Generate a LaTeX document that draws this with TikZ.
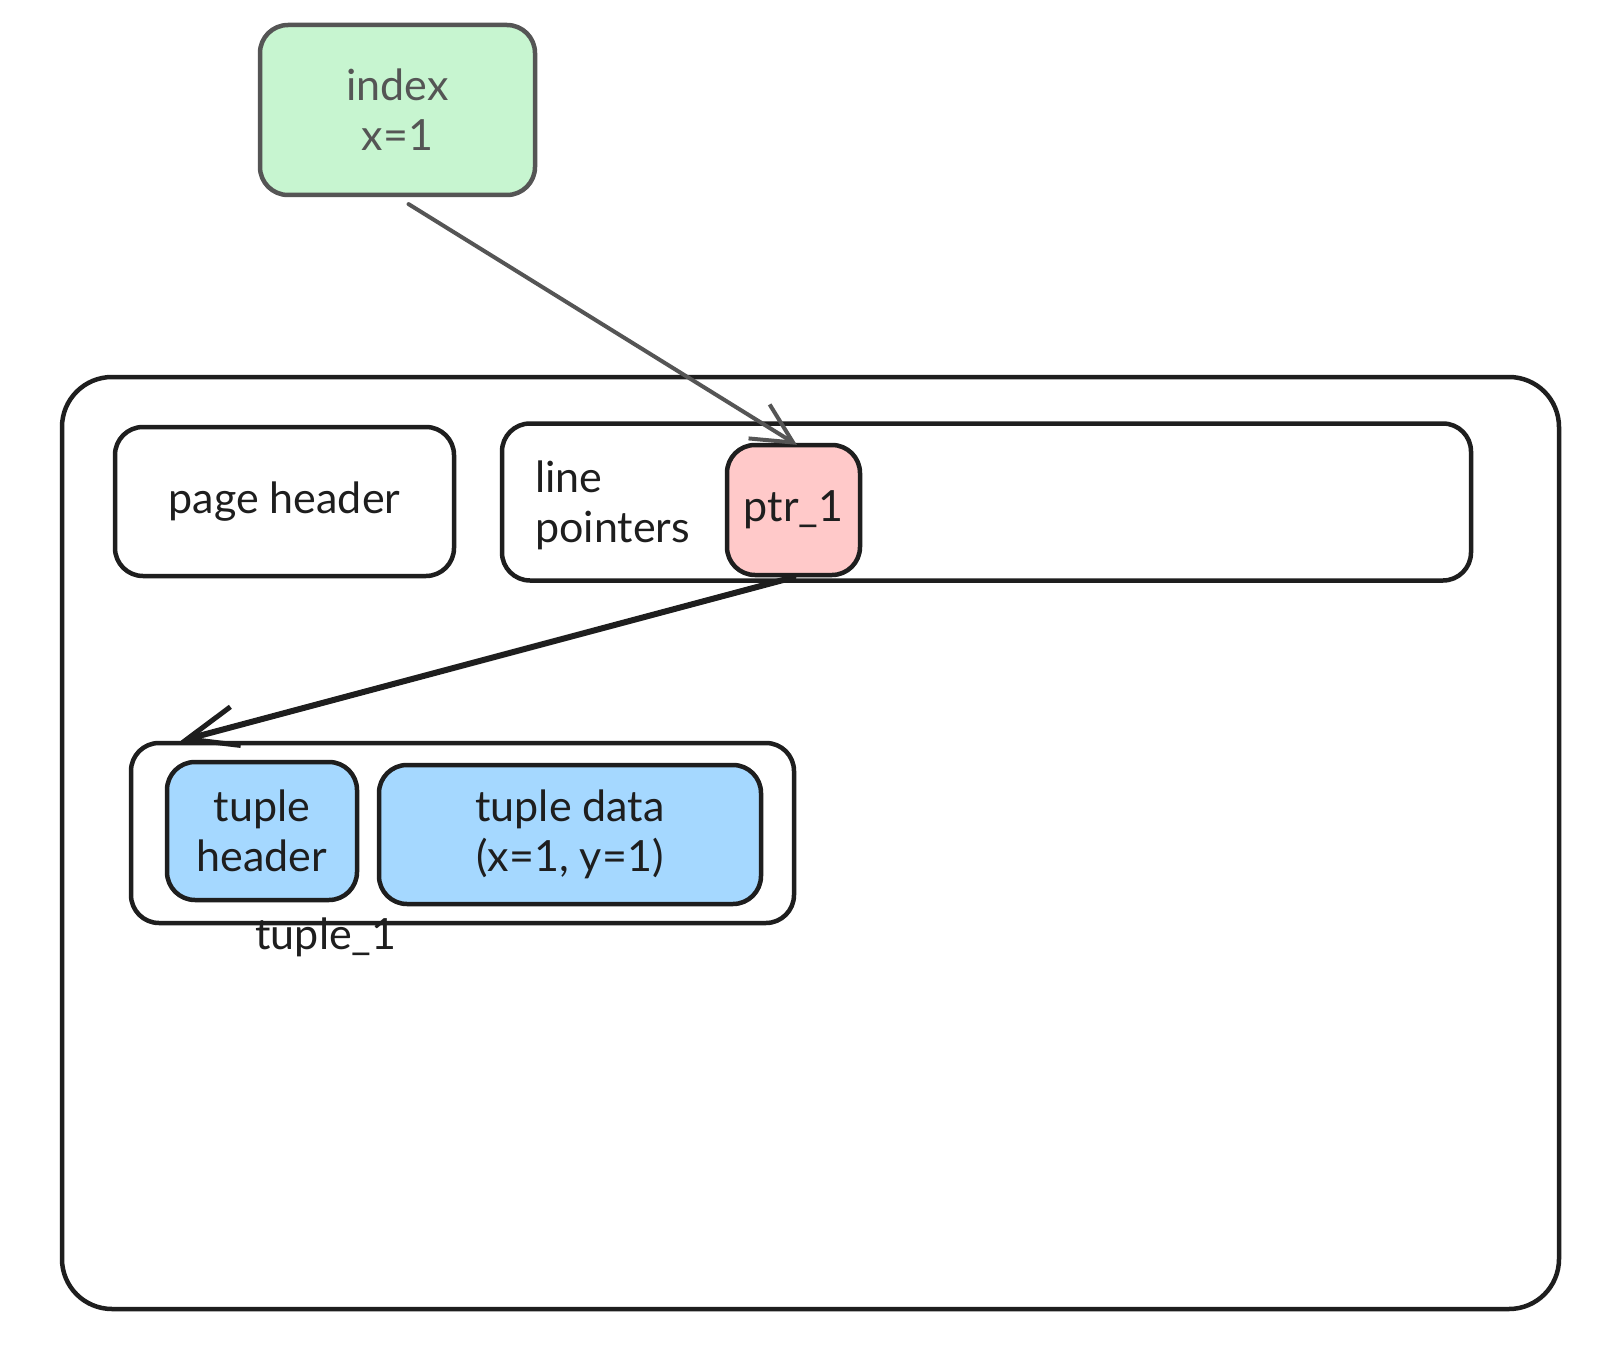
\documentclass[tikz,border=0pt]{standalone}
\usepackage{fontspec}
\setmainfont{Lato}
\usetikzlibrary{arrows.meta}
\definecolor{ink}{HTML}{1E1E1E}
\definecolor{grayink}{HTML}{555555}
\definecolor{greenfill}{HTML}{C7F5D0}
\definecolor{pinkfill}{HTML}{FFC9C9}
\definecolor{bluefill}{HTML}{A5D8FF}
\tikzset{
  box/.style={draw=ink, line width=4.5pt, rounded corners=28pt, inner sep=0pt, align=center,
    font=\fontsize{43}{50}\selectfont, text=ink},
  lbl/.style={inner sep=0pt, font=\fontsize{43}{50}\selectfont, text=ink},
  arrowA/.style={draw=grayink, line width=4pt, line cap=round,
    -{Straight Barb[length=40pt,width=40pt,line width=4pt]}},
  arrowB/.style={draw=ink, line width=6pt, line cap=round,
    -{Straight Barb[length=50pt,width=40pt,line width=5pt]}}
}
\begin{document}
\begin{tikzpicture}[x=1pt,y=-1pt]
\useasboundingbox[fill=white] (0,0) rectangle (1610,1362);
\node[box, draw=grayink, text=grayink, fill=greenfill, minimum width=275pt, minimum height=170pt] (index) at (397.5,110) {index\\x=1};
\node[box, rounded corners=50pt, minimum width=1497pt, minimum height=932pt] (page) at (810.5,843) {};
\node[box, minimum width=339pt, minimum height=149pt] (pagehdr) at (284.5,501.5) {page header};
\node[box, minimum width=969pt, minimum height=157pt] (linep) at (986.5,502) {};
\node[lbl, anchor=west, align=left] (lptext) at (535,505) {line\\pointers};
\node[box, fill=pinkfill, minimum width=133pt, minimum height=130pt] (ptr) at (793.5,510) {ptr\_1};
\node[box, minimum width=663pt, minimum height=180pt] (tuple) at (462.5,833) {};
\node[box, fill=bluefill, minimum width=190pt, minimum height=138pt] (thdr) at (262,831) {tuple\\header};
\node[box, fill=bluefill, minimum width=382pt, minimum height=139pt] (tdata) at (570,834.5) {tuple data\\(x=1, y=1)};
\node[lbl] (tlabel) at (326,937) {tuple\_1};
\draw[arrowA, shorten <=13pt, shorten >=-4pt] (index.south) -- (ptr.north);
\draw[arrowB] (ptr.south) -- ([xshift=52pt]tuple.north west);
\end{tikzpicture}
\end{document}
